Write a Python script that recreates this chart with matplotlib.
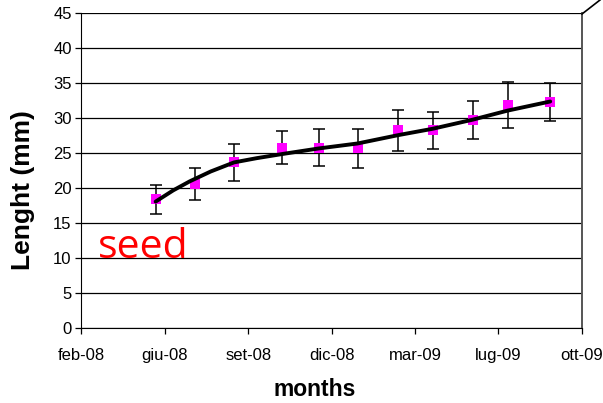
import matplotlib
matplotlib.use("Agg")
import matplotlib.pyplot as plt
from matplotlib.lines import Line2D

# tick labels of the date axis (one per major tick)
month_labels = ["feb-08", "giu-08", "set-08", "dic-08", "mar-09", "lug-09", "ott-09"]

# sampling dates, expressed in major-tick units from feb-08
sample_pos = [0.89, 1.36, 1.83, 2.41, 2.85, 3.31, 3.80, 4.21, 4.69, 5.11, 5.62]
length_mm = [18.4, 20.6, 23.7, 25.8, 25.8, 25.7, 28.3, 28.3, 29.7, 31.9, 32.3]
length_err = [2.05, 2.25, 2.6, 2.4, 2.6, 2.75, 2.95, 2.65, 2.7, 3.3, 2.75]

# growth curve
curve_pos = [0.89, 1.10, 1.30, 1.55, 1.83, 2.10, 2.41, 2.85, 3.31, 3.80, 4.21, 4.69, 5.11, 5.62]
curve_mm = [18.1, 19.7, 21.0, 22.4, 23.7, 24.3, 24.9, 25.7, 26.4, 27.6, 28.5, 29.8, 31.1, 32.4]

plt.rcParams["font.family"] = ["Liberation Sans", "DejaVu Sans"]

fig = plt.figure(figsize=(6.03, 4.03), dpi=100)
ax = fig.add_axes([0.135, 0.1854, 0.83, 0.7816])

ax.set_xlim(0, 6)
ax.set_ylim(0, 45)
ax.set_yticks(range(0, 46, 5))
ax.set_xticks(range(len(month_labels)))
ax.set_xticklabels(month_labels)
ax.yaxis.grid(True, color="black", linewidth=0.9)
ax.set_axisbelow(True)

ax.errorbar(sample_pos, length_mm, yerr=length_err, fmt="none",
            ecolor="black", elinewidth=1.1, capsize=4.2, capthick=1.1, zorder=3)
ax.plot(sample_pos, length_mm, "s", color="#ff00ff", markersize=7.5,
        markeredgewidth=0, zorder=4)
ax.plot(curve_pos, curve_mm, color="black", linewidth=2.8,
        solid_capstyle="round", zorder=5)

ax.text(0.2, 10.1, "seed", color="red", fontsize=29.5, family="Open Sans",
        ha="left", va="baseline")

ax.spines["top"].set_visible(False)
ax.spines["right"].set_color("#555555")
ax.spines["right"].set_linewidth(1.4)
ax.tick_params(axis="both", direction="out", length=4, width=0.9,
               labelsize=12, colors="black")
ax.tick_params(axis="x", pad=10)
ax.tick_params(axis="y", pad=3)

fig.text(23 / 603, 1 - 190 / 403, "Lenght (mm)", rotation=90, fontsize=19,
         fontweight="bold", ha="center", va="center")
fig.text(315 / 603, 1 - 390 / 403, "months", fontsize=16.5,
         fontweight="bold", ha="center", va="center")

# the diagonal edge of the chart box at the top right
fig.add_artist(Line2D([582 / 603, 600 / 603], [1 - 14 / 403, 1 - 0 / 403],
                      color="black", linewidth=1.2, transform=fig.transFigure))

fig.savefig("out.png", dpi=100)
